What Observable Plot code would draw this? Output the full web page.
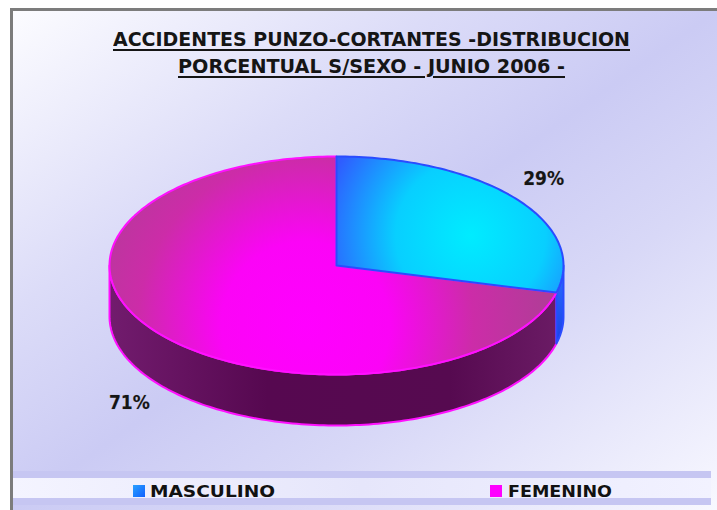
<!DOCTYPE html>
<html><head><meta charset="utf-8">
<script src="https://cdn.jsdelivr.net/npm/d3@7"></script>
<script src="https://cdn.jsdelivr.net/npm/@observablehq/plot@0.6"></script>
<style>
body{margin:0;background:#fff;}
#wrap{position:relative;width:717px;height:510px;overflow:hidden;background:#fff;}
#bg{position:absolute;left:10px;top:8px;right:0;bottom:0;border-top:3px solid #7c7c7c;border-left:3px solid #7c7c7c;
 background:linear-gradient(to bottom right,#fcfcff 0%,#dcdcf8 30%,#cbcbf4 50%,#d8d8f7 68%,#f8f8ff 100%);}
.t{position:absolute;left:0;top:0;font-family:"DejaVu Sans Condensed","DejaVu Sans",sans-serif;font-weight:bold;font-size:19px;line-height:19px;color:#151515;white-space:nowrap;
 text-decoration:underline;text-decoration-thickness:2px;text-underline-offset:3px;transform-origin:0 0;}
#band{position:absolute;left:13px;right:6px;top:471px;height:34px;background:#c6c6f2;}
#band2{position:absolute;left:13px;right:6px;top:478px;height:20px;background:linear-gradient(to right,#f4f4ff,#e6e6fb 50%,#f2f2ff);}
.sw{position:absolute;width:12px;height:12px;}
.lt{position:absolute;font-family:"DejaVu Sans Condensed","DejaVu Sans",sans-serif;font-weight:bold;font-size:16px;line-height:16px;color:#111;white-space:nowrap;transform-origin:0 0;}
#plot{position:absolute;left:0;top:0;}
</style></head>
<body>
<div id="wrap">
 <div id="bg"></div>
 <div id="band"></div><div id="band2"></div>
 <div id="plot"></div>
 <div class="t" id="t1">ACCIDENTES PUNZO-CORTANTES -DISTRIBUCION</div>
 <div class="t" id="t2">PORCENTUAL S/SEXO - JUNIO 2006 -</div>
 <div id="legend"></div>
</div>
<script>
// ---- data ----
const categories = ["MASCULINO", "FEMENINO"];
const values = [29, 71];
const labels = ["29%", "71%"];

// ---- styles / layout ----
const topFill = ["url(#gBlueTop)", "url(#gMagTop)"];
const sideFill = ["url(#gBlueSide)", "url(#gMagSide)"];
const strokeCol = ["#2a4cff", "#ff10ff"];
const swatchCol = ["linear-gradient(135deg,#2aa0ff,#1060ff)", "#ff00ff"];
const geo = {cx: 336, cy: 265, rx: 227, ry: 109, depth: 51};

// title fitting
function fit(id, left, width, baseline) {
  const el = document.getElementById(id);
  const w = el.getBoundingClientRect().width;
  el.style.left = left + "px";
  el.style.top = (baseline - 16) + "px";
  el.style.transform = `scaleX(${width / w})`;
}
fit("t1", 113, 517, 46);
fit("t2", 178, 387, 73);

// pie geometry from data
const arcs = d3.pie().sort(null).value(d => d)(values);
const P = (a, dy = 0) => ({x: geo.cx + geo.rx * Math.sin(a), y: geo.cy - geo.ry * Math.cos(a) + dy});
function arcPts(a0, a1, dy) {
  const n = Math.max(2, Math.ceil((a1 - a0) / 0.02));
  return d3.range(n + 1).map(i => P(a0 + (a1 - a0) * i / n, dy));
}
const tops = arcs.map((a, i) => [{x: geo.cx, y: geo.cy}, ...arcPts(a.startAngle, a.endAngle, 0)].map(p => ({...p, k: i})));
const sides = arcs.map((a, i) => {
  const a0 = Math.max(a.startAngle, Math.PI / 2), a1 = Math.min(a.endAngle, 3 * Math.PI / 2);
  if (a1 <= a0) return [];
  return [...arcPts(a0, a1, 0), ...arcPts(a0, a1, geo.depth).reverse()].map(p => ({...p, k: i}));
});
const labelData = arcs.map((a, i) => {
  const m = (a.startAngle + a.endAngle) / 2;
  const c = Math.cos(m), s = Math.sin(m);
  return {label: labels[i], x: geo.cx + geo.rx * 1.155 * s, y: geo.cy - geo.ry * 1.3 * c + (c < 0 ? geo.depth : 0)};
});

const marks = [];
[1, 0].forEach(i => { if (sides[i].length) marks.push(Plot.line(sides[i], {x: "x", y: "y", curve: "linear-closed", fill: sideFill[i], stroke: strokeCol[i], strokeWidth: 2})); });
[1, 0].forEach(i => marks.push(Plot.line(tops[i], {x: "x", y: "y", curve: "linear-closed", fill: topFill[i], stroke: strokeCol[i], strokeWidth: 2})));
marks.push(Plot.text(labelData, {x: "x", y: "y", text: "label", fontSize: 19, fontWeight: "bold", fill: "#151515", stroke: "#9a9a9a", strokeWidth: 0.6, strokeOpacity: 0.6, fontFamily: "DejaVu Sans Condensed"}));

const chart = Plot.plot({
  width: 717, height: 510, margin: 0,
  x: {domain: [0, 717], range: [0, 717], axis: null},
  y: {domain: [0, 510], range: [0, 510], axis: null},
  style: {background: "transparent", overflow: "visible"},
  marks
});
const ns = "http://www.w3.org/2000/svg";
const defs = document.createElementNS(ns, "defs");
defs.innerHTML = `
<radialGradient id="gMagTop" gradientUnits="userSpaceOnUse" cx="305" cy="325" r="240">
  <stop offset="0" stop-color="#ff00ff"/><stop offset="0.35" stop-color="#fb04f6"/><stop offset="0.7" stop-color="#cc2ca8"/><stop offset="1" stop-color="#b23c98"/></radialGradient>
<radialGradient id="gBlueTop" gradientUnits="userSpaceOnUse" cx="470" cy="235" r="150">
  <stop offset="0" stop-color="#00ecff"/><stop offset="0.5" stop-color="#08cfff"/><stop offset="1" stop-color="#2f5cff"/></radialGradient>
<linearGradient id="gMagSide" gradientUnits="userSpaceOnUse" x1="107" y1="0" x2="563" y2="0">
  <stop offset="0" stop-color="#721c6e"/><stop offset="0.35" stop-color="#560850"/><stop offset="0.75" stop-color="#560a50"/><stop offset="1" stop-color="#6c1c66"/></linearGradient>
<linearGradient id="gBlueSide" x1="0" y1="0" x2="0" y2="1">
  <stop offset="0" stop-color="#2a70ff"/><stop offset="1" stop-color="#1a40e8"/></linearGradient>`;
chart.insertBefore(defs, chart.firstChild);
document.getElementById("plot").appendChild(chart);

// legend
const legend = document.getElementById("legend");
const legPos = [{sx: 133, tx: 150, w: 125}, {sx: 490, tx: 508, w: 104}];
categories.forEach((c, i) => {
  const sw = document.createElement("div");
  sw.className = "sw"; sw.style.left = legPos[i].sx + "px"; sw.style.top = "485px"; sw.style.background = swatchCol[i];
  legend.appendChild(sw);
  const t = document.createElement("div");
  t.className = "lt"; t.textContent = c; t.style.left = legPos[i].tx + "px"; t.style.top = "484px";
  legend.appendChild(t);
  const w = t.getBoundingClientRect().width;
  t.style.transform = `scaleX(${legPos[i].w / w})`;
});
</script>
</body></html>
